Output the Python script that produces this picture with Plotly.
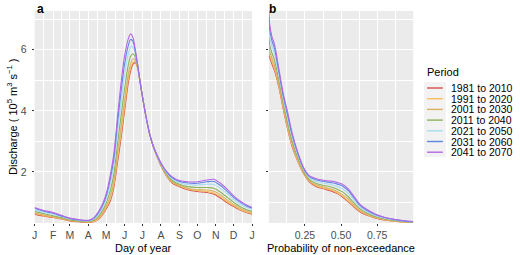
import plotly.graph_objects as go

# ---------------- data ----------------
periods = ["1981 to 2010", "1991 to 2020", "2001 to 2030", "2011 to 2040",
           "2021 to 2050", "2031 to 2060", "2041 to 2070"]
colors = ["#D5504C", "#F9BC5A", "#D8B060", "#8CB25C", "#A9DCF0", "#5F84E2", "#B468E6"]

# panel a: day of year
day = [1, 15, 32, 46, 60, 75, 91, 100, 108, 115, 122, 128, 134, 140, 146, 152, 158,
       162, 166, 170, 174, 178, 183, 188, 194, 200, 207, 214, 222, 232, 244, 258,
       274, 290, 302, 315, 325, 335, 345, 355, 366]

doy_1981 = [0.62, 0.56, 0.51, 0.46, 0.40, 0.37, 0.35, 0.37, 0.45, 0.60, 0.82, 1.05, 1.50, 2.30, 3.10, 4.00, 4.90,
            5.30, 5.52, 5.58, 5.40, 4.95, 4.35, 3.80, 3.25, 2.85, 2.48, 2.16, 1.88, 1.64, 1.52, 1.42,
            1.36, 1.33, 1.27, 1.12, 0.98, 0.87, 0.76, 0.68, 0.62]
doy_1991 = [0.64, 0.58, 0.52, 0.47, 0.41, 0.38, 0.36, 0.38, 0.47, 0.63, 0.86, 1.12, 1.59, 2.42, 3.24, 4.14, 5.02,
            5.40, 5.59, 5.61, 5.41, 4.95, 4.35, 3.80, 3.25, 2.85, 2.48, 2.17, 1.89, 1.66, 1.54, 1.44,
            1.39, 1.36, 1.31, 1.16, 1.02, 0.90, 0.78, 0.70, 0.64]
doy_2001 = [0.66, 0.60, 0.54, 0.48, 0.42, 0.38, 0.36, 0.40, 0.50, 0.67, 0.93, 1.22, 1.72, 2.60, 3.46, 4.36, 5.19,
            5.54, 5.70, 5.66, 5.42, 4.95, 4.35, 3.80, 3.25, 2.85, 2.49, 2.18, 1.91, 1.68, 1.56, 1.47,
            1.42, 1.41, 1.37, 1.22, 1.07, 0.94, 0.82, 0.73, 0.66]
doy_2011 = [0.71, 0.64, 0.57, 0.51, 0.44, 0.40, 0.38, 0.42, 0.55, 0.74, 1.03, 1.39, 1.94, 2.90, 3.82, 4.72, 5.48,
            5.79, 5.87, 5.75, 5.44, 4.95, 4.35, 3.80, 3.25, 2.85, 2.50, 2.20, 1.94, 1.72, 1.60, 1.52,
            1.49, 1.49, 1.47, 1.31, 1.16, 1.01, 0.88, 0.78, 0.71]
doy_2021 = [0.76, 0.68, 0.61, 0.54, 0.46, 0.42, 0.40, 0.45, 0.61, 0.83, 1.16, 1.60, 2.22, 3.28, 4.27, 5.17, 5.84,
            6.09, 6.09, 5.85, 5.47, 4.95, 4.35, 3.80, 3.25, 2.85, 2.51, 2.23, 1.98, 1.77, 1.65, 1.59,
            1.57, 1.60, 1.59, 1.43, 1.27, 1.10, 0.96, 0.85, 0.76]
doy_2031 = [0.81, 0.72, 0.65, 0.56, 0.48, 0.43, 0.41, 0.48, 0.66, 0.90, 1.27, 1.77, 2.44, 3.58, 4.63, 5.53, 6.13,
            6.34, 6.27, 5.94, 5.49, 4.95, 4.35, 3.80, 3.25, 2.85, 2.52, 2.25, 2.01, 1.81, 1.69, 1.64,
            1.63, 1.68, 1.69, 1.53, 1.35, 1.17, 1.02, 0.90, 0.81]
doy_2041 = [0.84, 0.75, 0.67, 0.58, 0.49, 0.44, 0.42, 0.50, 0.70, 0.95, 1.35, 1.90, 2.60, 3.80, 4.90, 5.80, 6.35,
            6.52, 6.40, 6.00, 5.50, 4.95, 4.35, 3.80, 3.25, 2.85, 2.53, 2.26, 2.03, 1.84, 1.72, 1.68,
            1.68, 1.74, 1.76, 1.60, 1.42, 1.22, 1.06, 0.94, 0.84]

# panel b: probability of non-exceedance
prob = [0, 0.005, 0.02, 0.04, 0.07, 0.10, 0.13, 0.16, 0.20, 0.24, 0.28, 0.33, 0.38,
        0.43, 0.47, 0.51, 0.55, 0.59, 0.63, 0.68, 0.74, 0.80, 0.87, 0.93, 1.0]

fdc_1981 = [5.85, 5.75, 5.55, 5.30, 4.75, 4.05, 3.40, 2.85, 2.35, 1.95, 1.68, 1.52, 1.45,
            1.38, 1.30, 1.18, 1.02, 0.85, 0.70, 0.58, 0.49, 0.43, 0.39, 0.36, 0.34]
fdc_1991 = [5.96, 5.84, 5.62, 5.37, 4.80, 4.09, 3.44, 2.89, 2.37, 1.97, 1.70, 1.54, 1.47,
            1.41, 1.33, 1.21, 1.05, 0.88, 0.72, 0.60, 0.50, 0.44, 0.39, 0.36, 0.34]
fdc_2001 = [6.13, 5.97, 5.73, 5.47, 4.87, 4.15, 3.51, 2.94, 2.41, 1.99, 1.72, 1.57, 1.51,
            1.44, 1.37, 1.26, 1.11, 0.92, 0.75, 0.62, 0.52, 0.45, 0.40, 0.37, 0.35]
fdc_2011 = [6.42, 6.19, 5.91, 5.64, 4.99, 4.25, 3.62, 3.03, 2.47, 2.03, 1.76, 1.62, 1.56,
            1.51, 1.44, 1.35, 1.19, 0.99, 0.80, 0.66, 0.54, 0.47, 0.41, 0.38, 0.36]
fdc_2021 = [6.77, 6.47, 6.14, 5.85, 5.14, 4.38, 3.76, 3.14, 2.55, 2.08, 1.81, 1.69, 1.63,
            1.59, 1.53, 1.45, 1.30, 1.08, 0.86, 0.70, 0.57, 0.49, 0.43, 0.39, 0.37]
fdc_2031 = [7.06, 6.69, 6.32, 6.02, 5.26, 4.48, 3.87, 3.23, 2.61, 2.12, 1.85, 1.74, 1.69,
            1.65, 1.61, 1.54, 1.39, 1.15, 0.91, 0.74, 0.60, 0.51, 0.44, 0.40, 0.37]
fdc_2041 = [7.27, 6.85, 6.45, 6.15, 5.35, 4.55, 3.95, 3.30, 2.65, 2.15, 1.88, 1.78, 1.73,
            1.70, 1.66, 1.60, 1.45, 1.20, 0.95, 0.77, 0.62, 0.52, 0.45, 0.41, 0.38]

month_days = [1, 32, 60, 91, 121, 152, 182, 213, 244, 274, 305, 335, 366]
month_labels = ["J", "F", "M", "A", "M", "J", "J", "A", "S", "O", "N", "D", "J"]
prob_ticks = [0.25, 0.5, 0.75]
prob_labels = ["0.25", "0.50", "0.75"]
y_ticks = [2, 4, 6]

doy_series = [doy_1981, doy_1991, doy_2001, doy_2011, doy_2021, doy_2031, doy_2041]
fdc_series = [fdc_1981, fdc_1991, fdc_2001, fdc_2011, fdc_2021, fdc_2031, fdc_2041]

# ---------------- figure ----------------
W, H = 520, 255
FONT = "Liberation Sans, Arial, Helvetica, sans-serif"
fig = go.Figure()

for name, col, ya, yb in zip(periods, colors, doy_series, fdc_series):
    fig.add_trace(go.Scatter(x=day, y=ya, mode="lines", name=name, showlegend=False,
                             line=dict(color=col, width=1.1, shape="spline", smoothing=0.8),
                             xaxis="x", yaxis="y"))
    fig.add_trace(go.Scatter(x=prob, y=yb, mode="lines", name=name, showlegend=False,
                             line=dict(color=col, width=1.1, shape="spline", smoothing=0.8),
                             xaxis="x2", yaxis="y2"))

# panel geometry in pixels
ax_l, ax_r = 32, 252
bx_l, bx_r = 269, 415
p_top, p_bot = 11, 223

def px(x):
    return x / W

def py(y):
    return 1 - y / H

y_range = [0.33, 7.27]
minor_days = [(a + b) / 2 for a, b in zip(month_days[:-1], month_days[1:])]

common_axis = dict(showline=False, zeroline=False, gridcolor="white", gridwidth=1.1,
                   ticks="outside", ticklen=2, tickcolor="#333333", tickwidth=1,
                   tickfont=dict(family=FONT, size=10.5, color="#4D4D4D"))

fig.update_layout(
    width=W, height=H, margin=dict(l=0, r=0, t=0, b=0),
    paper_bgcolor="white", plot_bgcolor="#EBEBEB",
    font=dict(family=FONT, color="black"),
    xaxis=dict(domain=[px(ax_l), px(ax_r)], range=[1, 366], tickmode="array",
               tickvals=month_days, ticktext=month_labels, anchor="y",
               minor=dict(tickmode="array", tickvals=minor_days, showgrid=True,
                          gridcolor="white", gridwidth=0.5, ticks=""),
               **common_axis),
    yaxis=dict(domain=[py(p_bot), py(p_top)], range=y_range, tickmode="array",
               tickvals=y_ticks, anchor="x", ticklabelstandoff=3,
               minor=dict(tickmode="array", tickvals=[1, 3, 5, 7], showgrid=True,
                          gridcolor="white", gridwidth=0.5, ticks=""),
               **common_axis),
    xaxis2=dict(domain=[px(bx_l), px(bx_r)], range=[0, 1], tickmode="array",
                tickvals=prob_ticks, ticktext=prob_labels, anchor="y2",
                minor=dict(tickmode="array", tickvals=[0.125, 0.375, 0.625, 0.875],
                           showgrid=True, gridcolor="white", gridwidth=0.5, ticks=""),
                **common_axis),
    yaxis2=dict(domain=[py(p_bot), py(p_top)], range=y_range, tickmode="array",
                tickvals=y_ticks, anchor="x2", showticklabels=False,
                minor=dict(tickmode="array", tickvals=[1, 3, 5, 7], showgrid=True,
                           gridcolor="white", gridwidth=0.5, ticks=""),
                **common_axis),
)

annotations = [
    dict(text="<b>a</b>", x=px(ax_l), y=py(0), xanchor="left", yanchor="top",
         font=dict(size=12)),
    dict(text="<b>b</b>", x=px(bx_l - 2), y=py(0), xanchor="left", yanchor="top",
         font=dict(size=12)),
    dict(text="Day of year", x=px((ax_l + ax_r) / 2), y=py(248), xanchor="center",
         yanchor="middle", font=dict(size=11)),
    dict(text="Probability of non-exceedance", x=px((bx_l + bx_r) / 2), y=py(248),
         xanchor="center", yanchor="middle", font=dict(size=11)),
    dict(text="Discharge ( 10<sup>5</sup> m<sup>3</sup> s<sup>−1</sup> )", x=px(9),
         y=py((p_top + p_bot) / 2), xanchor="center", yanchor="middle", textangle=-90,
         font=dict(size=11)),
    dict(text="Period", x=px(427), y=py(72), xanchor="left", yanchor="middle",
         font=dict(size=11)),
]

shapes = [dict(type="rect", xref="paper", yref="paper", x0=px(426), x1=px(448),
               y0=py(157), y1=py(82), fillcolor="#F2F2F2", line=dict(width=0), layer="below")]
for i, (name, col) in enumerate(zip(periods, colors)):
    yy = 88 + i * 10.7
    shapes.append(dict(type="line", xref="paper", yref="paper", x0=px(429), x1=px(445),
                       y0=py(yy), y1=py(yy), line=dict(color=col, width=1.4)))
    annotations.append(dict(text=name, x=px(452), y=py(yy), xanchor="left", yanchor="middle",
                            font=dict(size=10.5), borderpad=0))

for a in annotations:
    a.setdefault("xref", "paper")
    a.setdefault("yref", "paper")
    a.setdefault("showarrow", False)
fig.update_layout(annotations=annotations, shapes=shapes)

fig.write_html("out.html", config={"displayModeBar": False},
               post_script="document.body.style.margin='0';")
